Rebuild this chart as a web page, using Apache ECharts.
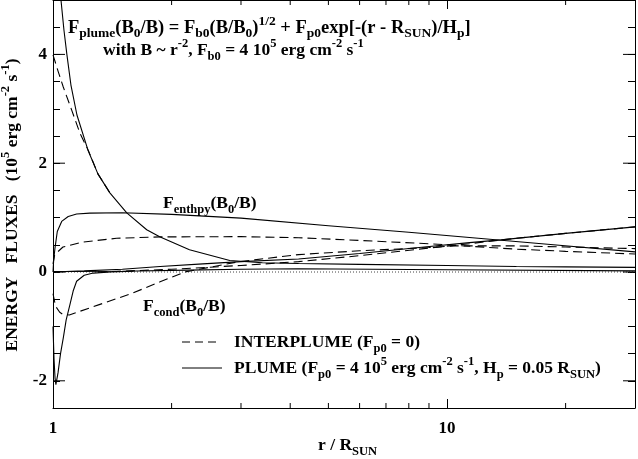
<!DOCTYPE html>
<html>
<head>
<meta charset="utf-8">
<script src="https://cdn.jsdelivr.net/npm/echarts/dist/echarts.min.js"></script>
<style>
  html, body { margin: 0; padding: 0; background: #fff; }
  #chart { width: 638px; height: 459px; }
</style>
</head>
<body>
<div id="chart"></div>
<script>
// r / R_SUN sample points and flux values (10^5 erg cm^-2 s^-1)

// PLUME (solid)
var plumeTotalR = [1.04, 1.0477, 1.0662, 1.085, 1.1105, 1.1502, 1.2262, 1.3, 1.3942, 1.5389, 1.7292, 1.865, 2.22, 2.81, 3.4, 4.2, 6, 10, 15, 20, 30];
var plumeTotal  = [5.2, 5.0, 4.445, 3.987, 3.437, 2.886, 2.244, 1.804, 1.455, 1.088, 0.776, 0.648, 0.41, 0.21, 0.17, 0.155, 0.14, 0.12, 0.1, 0.095, 0.085];

var plumeEnthR = [1.0, 1.004, 1.0117, 1.0254, 1.052, 1.093, 1.148, 1.24, 1.5, 2, 3, 5, 8, 12, 18, 30];
var plumeEnth  = [0.0, 0.22, 0.44, 0.745, 0.93, 1.02, 1.065, 1.083, 1.09, 1.06, 0.99, 0.85, 0.73, 0.62, 0.51, 0.37];

var plumeCondR = [1.0, 1.006, 1.012, 1.017, 1.022, 1.03, 1.045, 1.062, 1.08, 1.104, 1.125, 1.148, 1.2, 1.265, 1.4, 1.6];
var plumeCond  = [-1.0, -1.6, -1.95, -2.07, -2.1, -1.85, -1.5, -1.21, -0.88, -0.6, -0.35, -0.17, -0.06, -0.02, 0.0, 0.015];

var plumeKinR = [1.0, 1.2, 1.5, 1.87, 2.4, 3, 4.2, 6, 8.5, 11.4, 13.7, 20, 30];
var plumeKin  = [0.0, 0.02, 0.05, 0.1, 0.15, 0.19, 0.24, 0.34, 0.45, 0.54, 0.59, 0.71, 0.83];

var plumeFlatR = [1.0, 1.5, 2.2, 3, 4.2, 10, 30];
var plumeFlat  = [0.01, 0.015, 0.035, 0.05, 0.06, 0.04, 0.02];

// INTERPLUME (dashed)
var interTotalR = [1.0, 1.0314, 1.0619, 1.1149, 1.1706, 1.2285, 1.3, 1.3942];
var interTotal  = [3.99, 3.68, 3.4, 2.98, 2.55, 2.24, 1.804, 1.455];

var interEnthR = [1.0, 1.01, 1.06, 1.19, 1.45, 1.87, 3, 4.2, 6, 9, 10.5, 15, 20, 30];
var interEnth  = [0.15, 0.32, 0.46, 0.55, 0.62, 0.645, 0.65, 0.63, 0.58, 0.52, 0.49, 0.42, 0.38, 0.33];

var interCondR = [1.0, 1.01, 1.02, 1.04, 1.06, 1.1, 1.31, 1.59, 1.87, 2.16, 2.97, 4.2, 6, 9, 10.5, 15, 20, 30];
var interCond  = [-0.4, -0.55, -0.65, -0.74, -0.78, -0.79, -0.6, -0.39, -0.18, 0.0, 0.19, 0.32, 0.39, 0.45, 0.48, 0.48, 0.46, 0.43];

var interKinR = [1.3, 2, 3, 4.2, 6, 8.5, 11.4, 15, 20, 30];
var interKin  = [0.0, 0.05, 0.12, 0.19, 0.3, 0.42, 0.52, 0.62, 0.71, 0.83];

var zeroR = [1, 30];
var zeroV = [0, 0];

// axis ticks
var xMajor = [1, 10];
var xMinor = [2, 3, 4, 5, 6, 7, 8, 9, 20];
var yMajor = [-2, 0, 2, 4];

var chart = echarts.init(document.getElementById('chart'));
var serif = '"Liberation Serif", "DejaVu Serif", serif';

function pairs(rs, vs) {
    return rs.map(function (r, i) { return [r, vs[i]]; });
}

function line(name, rs, vs, type) {
    return {
        name: name,
        type: 'line',
        data: pairs(rs, vs),
        showSymbol: false,
        smooth: false,
        clip: true,
        lineStyle: { color: '#000', width: 1.1, type: type },
        silent: true
    };
}

var dash = [9, 5];

function xAx(pos, labels) {
    return {
        type: 'log', logBase: 10, min: 1, max: 30, position: pos,
        axisLine: { onZero: false, lineStyle: { color: '#000', width: 1 } },
        axisTick: { inside: true, length: 9, lineStyle: { color: '#000' } },
        axisLabel: {
            show: labels, margin: 12, color: '#000', fontFamily: serif, fontWeight: 'bold', fontSize: 17,
            formatter: function (v) {
                var hit = xMajor.filter(function (m) { return Math.abs(v - m) < 1e-6; });
                return hit.length ? String(hit[0]) : '';
            }
        },
        splitLine: { show: false }
    };
}

function yAx(pos, labels) {
    return {
        type: 'value', min: -2.5, max: 5, interval: 0.5, position: pos,
        axisLine: { show: true, onZero: false, lineStyle: { color: '#000', width: 1 } },
        axisTick: { show: true, inside: true, length: 7, lineStyle: { color: '#000' } },
        axisLabel: {
            show: labels, margin: 6, color: '#000', fontFamily: serif, fontWeight: 'bold', fontSize: 17,
            formatter: function (v) {
                var k = Math.round(v);
                return (Math.abs(v - k) < 1e-6 && k % 2 === 0) ? String(k) : '';
            }
        },
        splitLine: { show: false }
    };
}

var option = {
    animation: false,
    backgroundColor: '#fff',
    grid: { left: 53, right: 1, top: 0, bottom: 51 },
    xAxis: [xAx('bottom', true), xAx('top', false)],
    yAxis: [yAx('left', true), yAx('right', false)],
    series: [
        {
            name: 'zero', type: 'line', data: pairs(zeroR, zeroV), showSymbol: false, silent: true,
            lineStyle: { color: '#444', width: 1, type: [1, 2] }
        },
        line('interTotal', interTotalR, interTotal, dash),
        line('interEnth', interEnthR, interEnth, dash),
        line('interCond', interCondR, interCond, dash),
        line('interKin', interKinR, interKin, dash),
        line('plumeFlat', plumeFlatR, plumeFlat, 'solid'),
        line('plumeTotal', plumeTotalR, plumeTotal, 'solid'),
        line('plumeEnth', plumeEnthR, plumeEnth, 'solid'),
        line('plumeCond', plumeCondR, plumeCond, 'solid'),
        line('plumeKin', plumeKinR, plumeKin, 'solid')
    ]
};

chart.setOption(option);

// text with sub/superscripts
function richSet(size, small) {
    return {
        n: { fontSize: size, fontFamily: serif, fontWeight: 'bold', fill: '#000', lineHeight: 26 },
        sub: { fontSize: small, fontFamily: serif, fontWeight: 'bold', fill: '#000', verticalAlign: 'bottom' },
        sup: { fontSize: small, fontFamily: serif, fontWeight: 'bold', fill: '#000', verticalAlign: 'top' }
    };
}
var rich = richSet(17.5, 12.5);
var richBig = richSet(18.5, 13.5);

function label(text, x, y, align, rot, r) {
    return {
        type: 'text', x: x, y: y, rotation: rot || 0, silent: true, z: 100,
        style: { text: text, rich: r || rich, fill: '#000', align: align || 'left', verticalAlign: 'middle' }
    };
}

function seg(x1, y1, x2, y2, lineDash) {
    return {
        type: 'line', silent: true, z: 100,
        shape: { x1: x1, y1: y1, x2: x2, y2: y2 },
        style: { stroke: '#000', lineWidth: 1, lineDash: lineDash || null }
    };
}

var yTop = chart.convertToPixel({ yAxisIndex: 0 }, 5);
var yBot = chart.convertToPixel({ yAxisIndex: 0 }, -2.5);
var xLeft = chart.convertToPixel({ xAxisIndex: 0 }, 1);
var xRight = chart.convertToPixel({ xAxisIndex: 0 }, 30);

var g = [];
xMinor.forEach(function (v) {
    var px = chart.convertToPixel({ xAxisIndex: 0 }, v);
    g.push(seg(px, yBot, px, yBot - 5));
    g.push(seg(px, yTop, px, yTop + 5));
});
yMajor.forEach(function (v) {
    var py = chart.convertToPixel({ yAxisIndex: 0 }, v);
    g.push(seg(xLeft, py, xLeft + 12, py));
    g.push(seg(xRight, py, xRight - 12, py));
});

g.push(label('{n|F}{sub|plume}{n|(B}{sub|0}{n|/B) = F}{sub|b0}{n|(B/B}{sub|0}{n|)}{sup|1/2}{n| + F}{sub|p0}{n|exp[-(r - R}{sub|SUN}{n|)/H}{sub|p}{n|]}', 68, 28, 'left', 0, richBig));
g.push(label('{n|with B ~ r}{sup|-2}{n|, F}{sub|b0}{n| = 4 10}{sup|5}{n| erg cm}{sup|-2}{n| s}{sup|-1}', 103, 50));

g.push(label('{n|F}{sub|enthpy}{n|(B}{sub|0}{n|/B)}', 163, 203));
g.push(label('{n|F}{sub|cond}{n|(B}{sub|0}{n|/B)}', 143, 306));

g.push(seg(182, 342, 218, 342, [8, 5]));
g.push(label('{n|INTERPLUME (F}{sub|p0}{n| = 0)}', 234, 342));
g.push(seg(182, 368, 222, 368));
g.push(label('{n|PLUME (F}{sub|p0}{n| = 4 10}{sup|5}{n| erg cm}{sup|-2}{n| s}{sup|-1}{n|, H}{sub|p}{n| = 0.05 R}{sub|SUN}{n|)}', 234, 368));

g.push(label('{n|r / R}{sub|SUN}', 318, 445));
g.push(label('{n|ENERGY   FLUXES   (10}{sup|5}{n| erg cm}{sup|-2}{n| s}{sup|-1}{n|)}', 12, 205, 'center', Math.PI / 2));

chart.setOption({ graphic: g });
</script>
</body>
</html>
